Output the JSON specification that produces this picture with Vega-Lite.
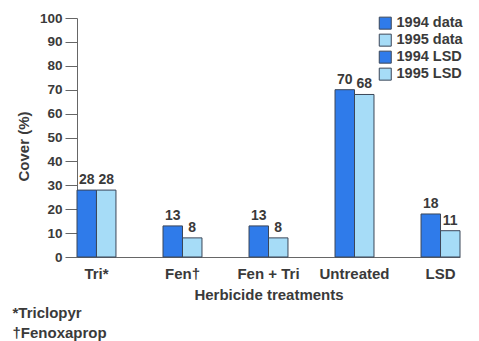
{
  "$schema": "https://vega.github.io/schema/vega-lite/v6.json",
  "width": 383,
  "height": 239,
  "autosize": {"type": "none"},
  "padding": {"left": 77, "top": 18, "right": 19, "bottom": 84},
  "background": "white",
  "config": {
    "font": "Liberation Sans",
    "view": {"stroke": null},
    "axis": {"labelFontWeight": "bold", "titleFontWeight": "bold", "labelColor": "#3a3a3a", "titleColor": "#3a3a3a", "domainColor": "#666", "tickColor": "#666", "grid": false}
  },
  "title": {
    "text": ["*Triclopyr", "†Fenoxaprop"],
    "orient": "bottom",
    "anchor": "start",
    "fontSize": 15,
    "fontWeight": "bold",
    "color": "#3a3a3a",
    "offset": 4,
    "dx": -4,
    "lineHeight": 20
  },
  "data": {
    "values": [
      {"treatment": "Tri*", "year": "1994", "series": "1994 data", "value": 28},
      {"treatment": "Tri*", "year": "1995", "series": "1995 data", "value": 28},
      {"treatment": "Fen†", "year": "1994", "series": "1994 data", "value": 13},
      {"treatment": "Fen†", "year": "1995", "series": "1995 data", "value": 8},
      {"treatment": "Fen + Tri", "year": "1994", "series": "1994 data", "value": 13},
      {"treatment": "Fen + Tri", "year": "1995", "series": "1995 data", "value": 8},
      {"treatment": "Untreated", "year": "1994", "series": "1994 data", "value": 70},
      {"treatment": "Untreated", "year": "1995", "series": "1995 data", "value": 68},
      {"treatment": "LSD", "year": "1994", "series": "1994 LSD", "value": 18},
      {"treatment": "LSD", "year": "1995", "series": "1995 LSD", "value": 11}
    ]
  },
  "encoding": {
    "x": {
      "field": "treatment",
      "type": "nominal",
      "sort": ["Tri*", "Fen†", "Fen + Tri", "Untreated", "LSD"],
      "scale": {"paddingInner": 0.547, "paddingOuter": 0},
      "axis": {"title": "Herbicide treatments", "labelAngle": 0, "ticks": false, "labelFontSize": 15, "labelPadding": 9, "titleFontSize": 15, "titlePadding": 6}
    },
    "xOffset": {"field": "year", "type": "nominal", "scale": {"paddingInner": 0, "paddingOuter": 0}},
    "y": {
      "field": "value",
      "type": "quantitative",
      "scale": {"domain": [0, 100]},
      "axis": {"title": "Cover (%)", "values": [0, 10, 20, 30, 40, 50, 60, 70, 80, 90, 100], "tickSize": 12, "labelPadding": 3, "labelFontSize": 13.5, "titleFontSize": 15, "titlePadding": 8, "titleY": 128}
    }
  },
  "layer": [
    {
      "mark": {"type": "bar", "stroke": "#3b4658", "strokeWidth": 1},
      "encoding": {
        "color": {
          "field": "series",
          "type": "nominal",
          "scale": {"domain": ["1994 data", "1995 data", "1994 LSD", "1995 LSD"], "range": ["#2F7BEA", "#A6DCF7", "#2F7BEA", "#A6DCF7"]},
          "legend": {
            "title": null,
            "orient": "none",
            "legendX": 301,
            "legendY": -3,
            "symbolType": "square",
            "symbolSize": 144,
            "symbolStrokeColor": "#3b4658",
            "symbolStrokeWidth": 1,
            "labelFontSize": 14.5,
            "labelFontWeight": "bold",
            "labelColor": "#3a3a3a",
            "rowPadding": 0,
            "clipHeight": 16.3,
            "labelOffset": 4
          }
        }
      }
    },
    {
      "mark": {"type": "text", "dy": -10, "fontSize": 14, "fontWeight": "bold", "color": "#3a3a3a"},
      "encoding": {"text": {"field": "value", "type": "quantitative"}}
    }
  ]
}
